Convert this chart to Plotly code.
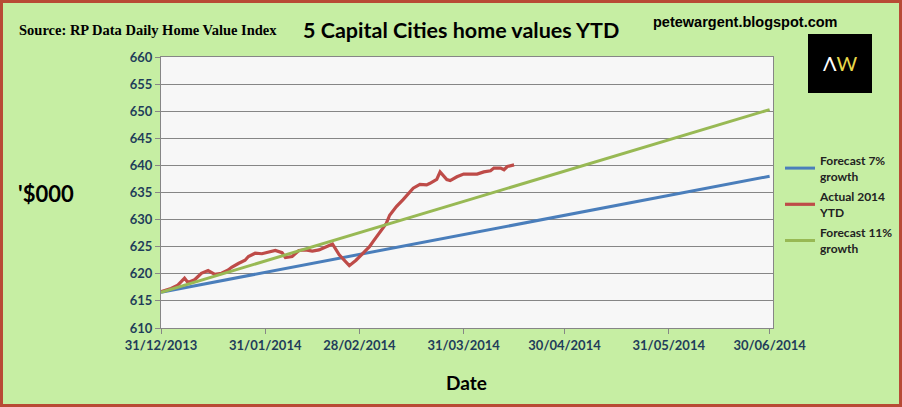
import plotly.graph_objects as go

# Forecast lines (endpoints)
forecast_dates = ["2013-12-31", "2014-06-30"]
forecast7 = [616.6, 638.0]
forecast11 = [616.6, 650.3]

# Actual 2014 YTD
actual_dates = [
    "2013-12-31", "2014-01-03", "2014-01-05", "2014-01-07", "2014-01-08", "2014-01-10",
    "2014-01-12", "2014-01-14", "2014-01-16", "2014-01-18", "2014-01-20", "2014-01-21",
    "2014-01-23", "2014-01-25", "2014-01-26", "2014-01-28", "2014-01-30", "2014-02-01",
    "2014-02-03", "2014-02-05", "2014-02-06", "2014-02-08", "2014-02-10", "2014-02-12",
    "2014-02-14", "2014-02-16", "2014-02-18", "2014-02-20", "2014-02-22", "2014-02-25",
    "2014-02-27", "2014-03-01", "2014-03-03", "2014-03-04", "2014-03-06", "2014-03-08",
    "2014-03-09", "2014-03-11", "2014-03-13", "2014-03-15", "2014-03-16", "2014-03-18",
    "2014-03-20", "2014-03-21", "2014-03-23", "2014-03-24", "2014-03-26", "2014-03-27",
    "2014-03-29", "2014-03-31", "2014-04-02", "2014-04-04", "2014-04-06", "2014-04-08",
    "2014-04-09", "2014-04-11", "2014-04-12", "2014-04-13", "2014-04-15",
]
actual = [
    616.7, 617.3, 617.9, 619.2, 618.4, 618.9,
    620.1, 620.6, 619.9, 620.1, 620.7, 621.2,
    621.9, 622.5, 623.2, 623.8, 623.7, 624.0,
    624.3, 623.9, 623.0, 623.2, 624.3, 624.4,
    624.2, 624.4, 625.0, 625.5, 623.5, 621.5,
    622.5, 623.8, 625.0, 625.9, 627.5, 629.3,
    630.8, 632.4, 633.7, 635.0, 635.8, 636.5,
    636.4, 636.7, 637.4, 638.8, 637.4, 637.2,
    637.9, 638.4, 638.4, 638.4, 638.8, 639.0,
    639.5, 639.5, 639.2, 639.8, 640.1,
]

x_tickvals = ["2013-12-31", "2014-01-31", "2014-02-28", "2014-03-31",
              "2014-04-30", "2014-05-31", "2014-06-30"]
x_ticktext = ["31/12/2013", "31/01/2014", "28/02/2014", "31/03/2014",
              "30/04/2014", "31/05/2014", "30/06/2014"]
y_tickvals = [610, 615, 620, 625, 630, 635, 640, 645, 650, 655, 660]

W, H = 902, 407
ML, MR, MT, MB = 161, 129, 57, 79
PW, PH = W - ML - MR, H - MT - MB

fig = go.Figure()
fig.add_trace(go.Scatter(x=forecast_dates, y=forecast7, mode="lines",
                         name="Forecast 7%<br>growth", legendgroup="a",
                         line=dict(color="#4a7ebb", width=3)))
fig.add_trace(go.Scatter(x=actual_dates, y=actual, mode="lines",
                         name="Actual 2014<br>YTD", legendgroup="b",
                         line=dict(color="#be4b48", width=3.2)))
fig.add_trace(go.Scatter(x=forecast_dates, y=forecast11, mode="lines",
                         name="Forecast 11%<br>growth", legendgroup="c",
                         line=dict(color="#98b954", width=3)))

tickfont = dict(family="Lato, Open Sans, sans-serif", size=13, color="#1f3d5a", weight="bold")

fig.update_layout(
    width=W, height=H,
    autosize=False,
    margin=dict(l=ML, r=MR, t=MT, b=MB, autoexpand=False),
    paper_bgcolor="#c6eea3",
    plot_bgcolor="#f7f7f7",
    showlegend=True,
    legend=dict(x=(780 - ML) / PW, y=1 - (146 - MT) / PH, xanchor="left", yanchor="top",
                bgcolor="rgba(0,0,0,0)", itemwidth=30,
                font=dict(family="Lato, Open Sans, sans-serif", size=12,
                          color="#222222", weight="bold"),
                tracegroupgap=2),
    xaxis=dict(type="date", range=["2013-12-31", "2014-07-01"],
               tickvals=x_tickvals, ticktext=x_ticktext, tickfont=tickfont,
               showgrid=False, showline=True, linecolor="#868686", linewidth=1,
               mirror=True, ticks="outside", tickcolor="#868686", ticklen=5,
               zeroline=False),
    yaxis=dict(range=[610, 660], tickvals=y_tickvals, tickfont=tickfont,
               showgrid=True, gridcolor="#868686", gridwidth=1,
               showline=True, linecolor="#868686", linewidth=1, mirror=True,
               ticks="outside", tickcolor="#868686", ticklen=5, zeroline=False),
    annotations=[
        dict(text="5 Capital Cities home values YTD", xref="paper", yref="paper",
             x=(461 - ML) / PW, y=1 + (MT - 30) / PH, xanchor="center", yanchor="middle",
             showarrow=False,
             font=dict(family="Lato, Open Sans, sans-serif", size=21.5, color="#000000",
                       weight="bold")),
        dict(text="Source: RP Data Daily Home Value Index", xref="paper", yref="paper",
             x=(17 - ML) / PW, y=1 + (MT - 30) / PH, xanchor="left", yanchor="middle",
             showarrow=False,
             font=dict(family="Liberation Serif, serif", size=14.5, color="#000000",
                       weight="bold")),
        dict(text="petewargent.blogspot.com", xref="paper", yref="paper",
             x=(745 - ML) / PW, y=1 + (MT - 22) / PH, xanchor="center", yanchor="middle",
             showarrow=False,
             font=dict(family="Liberation Sans, Arial, sans-serif", size=14.5, color="#000000",
                       weight="bold")),
        dict(text="'$000", xref="paper", yref="paper",
             x=(16 - ML) / PW, y=1 - (193 - MT) / PH, xanchor="left", yanchor="middle",
             showarrow=False,
             font=dict(family="Lato, Open Sans, sans-serif", size=22, color="#000000",
                       weight="bold")),
        dict(text="Date", xref="paper", yref="paper",
             x=(466 - ML) / PW, y=1 - (382 - MT) / PH, xanchor="center", yanchor="middle",
             showarrow=False,
             font=dict(family="Lato, Open Sans, sans-serif", size=19, color="#000000",
                       weight="bold")),
        dict(text="<span style='color:#ffffff'>Λ</span><span style='color:#e8d84a'>W</span>",
             xref="paper", yref="paper",
             x=(840 - ML) / PW, y=1 - (63 - MT) / PH, xanchor="center", yanchor="middle",
             showarrow=False,
             font=dict(family="Lato, Open Sans, sans-serif", size=20, color="#ffffff")),
    ],
    shapes=[
        dict(type="rect", xref="paper", yref="paper",
             x0=(808 - ML) / PW, x1=(872 - ML) / PW,
             y0=1 - (93 - MT) / PH, y1=1 - (34 - MT) / PH,
             fillcolor="#000000", line=dict(width=0), layer="above"),
        dict(type="rect", xref="paper", yref="paper",
             x0=(1.5 - ML) / PW, x1=(W - 1.5 - ML) / PW,
             y0=1 - (H - 1.5 - MT) / PH, y1=1 + (MT - 1.5) / PH,
             fillcolor="rgba(0,0,0,0)", line=dict(color="#b84a35", width=3), layer="below"),
    ],
)

fig.write_html(
    "out.html",
    config={"displayModeBar": False},
    post_script="document.documentElement.style.overflow='hidden';"
                "document.body.style.margin='0';document.body.style.overflow='hidden';",
)
